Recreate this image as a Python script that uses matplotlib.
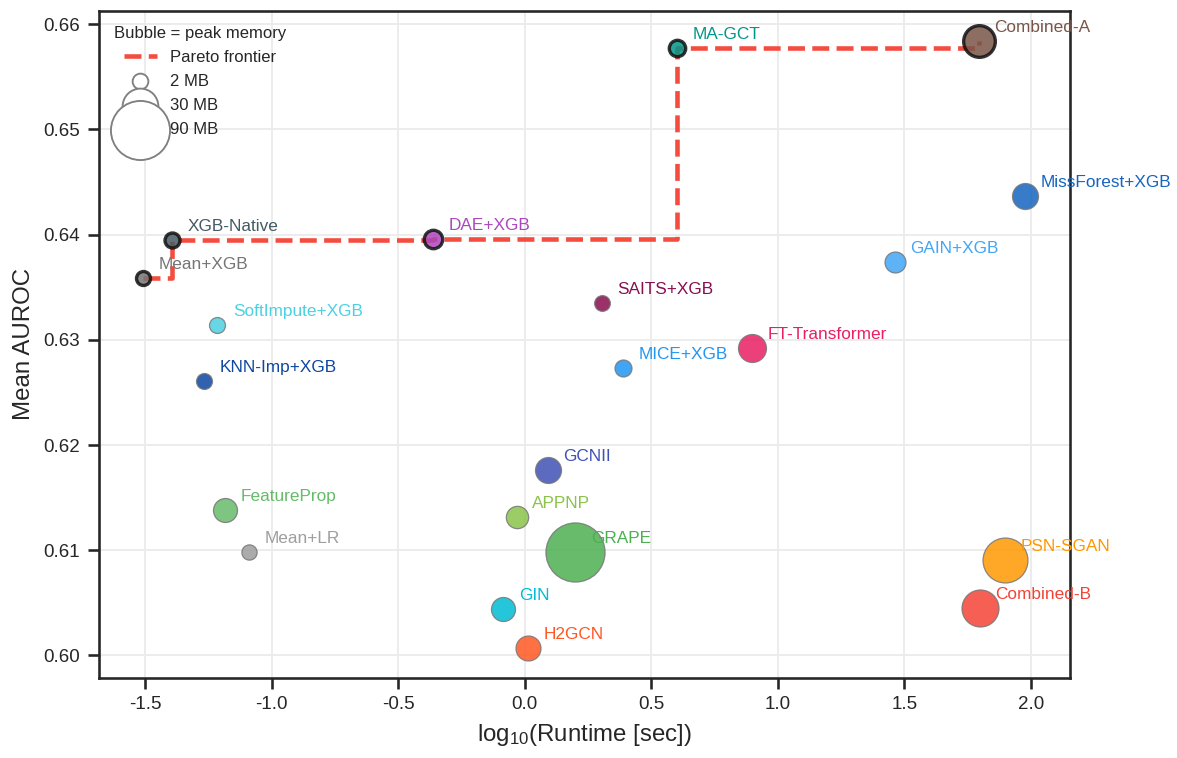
import matplotlib
matplotlib.use("Agg")
import matplotlib.pyplot as plt

plt.rcParams['font.family'] = ['Liberation Sans', 'DejaVu Sans']
plt.rcParams['mathtext.fontset'] = 'custom'
plt.rcParams['mathtext.rm'] = 'Liberation Sans'
plt.rcParams['mathtext.it'] = 'Liberation Sans:italic'
plt.rcParams['text.color'] = '#262626'
plt.rcParams['axes.labelcolor'] = '#262626'

# methods, log10 runtime (sec), mean AUROC, peak memory (MB)
methods = ['Mean+XGB', 'XGB-Native', 'DAE+XGB', 'MA-GCT', 'Combined-A',
           'MissForest+XGB', 'GAIN+XGB', 'SAITS+XGB', 'FT-Transformer', 'MICE+XGB',
           'SoftImpute+XGB', 'KNN-Imp+XGB', 'GCNII', 'FeatureProp', 'APPNP',
           'GRAPE', 'Mean+LR', 'PSN-SGAN', 'Combined-B', 'GIN', 'H2GCN']
log_runtime = [-1.507, -1.393, -0.362, 0.603, 1.795,
               1.977, 1.463, 0.304, 0.899, 0.390,
               -1.215, -1.268, 0.091, -1.184, -0.032,
               0.199, -1.088, 1.899, 1.799, -0.085, 0.012]
auroc = [0.6359, 0.6395, 0.6396, 0.6577, 0.6584,
         0.6437, 0.6374, 0.6335, 0.6292, 0.6273,
         0.6314, 0.6261, 0.6176, 0.6138, 0.6132,
         0.6098, 0.6098, 0.6091, 0.6045, 0.6044, 0.6007]
memory = [0.6, 1.4, 4.5, 2.6, 22.5,
          13.6, 7.2, 2.0, 16.5, 3.1,
          2.2, 2.2, 13.6, 10.9, 8.8,
          90, 1.6, 50, 32.4, 10.9, 12.2]
colors = ['#757575', '#455A64', '#AB47BC', '#009688', '#795548',
          '#1565C0', '#42A5F5', '#880E4F', '#E91E63', '#2196F3',
          '#4DD0E1', '#0D47A1', '#3F51B5', '#66BB6A', '#8BC34A',
          '#4CAF50', '#9E9E9E', '#FF9800', '#F44336', '#00BCD4', '#FF5722']
pareto = ['Mean+XGB', 'XGB-Native', 'DAE+XGB', 'MA-GCT', 'Combined-A']
legend_mem = [2, 30, 90]


def bubble(mb):
    return 8.5 * mb + 40


fig = plt.figure(figsize=(1177 / 150, 758 / 150), dpi=150)
ax = fig.add_axes([0.0841, 0.1062, 0.825, 0.8799])

# pareto frontier as a step line
px = [log_runtime[methods.index(m)] for m in pareto]
py = [auroc[methods.index(m)] for m in pareto]
pareto_line, = ax.plot(px, py, drawstyle='steps-post', color='#F44336', alpha=0.95,
                       lw=2.2, ls='--', zorder=2, label='Pareto frontier')

for m, x, y, mem, c in zip(methods, log_runtime, auroc, memory, colors):
    if m in pareto:
        ax.scatter(x, y, s=bubble(mem), color=c, alpha=0.85, edgecolor='#111111',
                   linewidth=1.6, zorder=4)
    else:
        ax.scatter(x, y, s=bubble(mem), color=c, alpha=0.85, edgecolor='#777777',
                   linewidth=0.6, zorder=3)
    ax.annotate(m, (x, y), xytext=(7.5, 4.3), textcoords='offset points',
                ha='left', va='baseline', fontsize=8.3, color=c, zorder=5)

# legend
handles = [pareto_line]
for mb in legend_mem:
    handles.append(ax.scatter([], [], s=bubble(mb), facecolor='white',
                              edgecolor='#808080', linewidth=0.9, label=f'{mb} MB'))
ax.legend(handles=handles, loc='upper left', frameon=False, fontsize=8,
          title='Bubble = peak memory', title_fontsize=8, labelspacing=0.55)

ax.set_xlim(-1.682, 2.155)
ax.set_ylim(0.5979, 0.6613)
ax.set_xticks([-1.5, -1.0, -0.5, 0.0, 0.5, 1.0, 1.5, 2.0])
ax.set_yticks([0.60, 0.61, 0.62, 0.63, 0.64, 0.65, 0.66])
ax.set_xticklabels(['-1.5', '-1.0', '-0.5', '0.0', '0.5', '1.0', '1.5', '2.0'])
ax.set_yticklabels(['0.60', '0.61', '0.62', '0.63', '0.64', '0.65', '0.66'])
ax.grid(True, color='#ebebeb', lw=0.9)
ax.set_axisbelow(True)
ax.tick_params(direction='out', length=5.5, width=1.25, labelsize=9,
               color='#262626', labelcolor='#262626')
for sp in ax.spines.values():
    sp.set_linewidth(1.25)
    sp.set_color('#262626')

ax.set_xlabel(r'log$_{10}$(Runtime [sec])', fontsize=11.5)
ax.set_ylabel('Mean AUROC', fontsize=11.5)

fig.savefig('out.png', dpi=150)
